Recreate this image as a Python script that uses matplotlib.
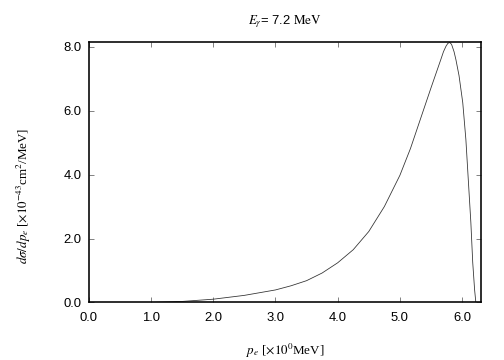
import numpy as np
import matplotlib
matplotlib.use('Agg')
import matplotlib.pyplot as plt

plt.rcParams['mathtext.fontset'] = 'stix'

# curve
pe = [1.05, 1.1, 1.5, 2.0, 2.5, 3.0, 3.25, 3.5, 3.75, 4.0, 4.25, 4.5, 4.75,
      5.0, 5.17, 5.34, 5.5, 5.66, 5.70, 5.74, 5.77, 5.80, 5.83, 5.87, 5.9,
      5.95, 6.01, 6.06, 6.1, 6.14, 6.17, 6.2, 6.22]
dsig = [0.0, 0.005, 0.03, 0.1, 0.22, 0.39, 0.52, 0.68, 0.92, 1.24, 1.65, 2.22,
        3.0, 3.98, 4.82, 5.8, 6.72, 7.62, 7.85, 8.02, 8.11, 8.14, 8.08, 7.85,
        7.6, 7.1, 6.25, 5.1, 3.8, 2.5, 1.25, 0.4, 0.0]

xticks = [0, 1, 2, 3, 4, 5, 6]
yticks = [0, 2, 4, 6, 8]

fig = plt.figure(figsize=(7, 5), dpi=72)
ax = fig.add_axes([0.176, 0.16, 0.778, 0.723])
ax.plot(pe, dsig, color='#333333', lw=0.8)

ax.set_xlim(0, 6.3)
ax.set_ylim(0, 8.15)
ax.set_xticks(xticks)
ax.set_yticks(yticks)
ax.set_xticklabels(['%.1f' % v for v in xticks], family='Liberation Sans', fontsize=13)
ax.set_yticklabels(['%.1f' % v for v in yticks], family='Liberation Sans', fontsize=13)
ax.tick_params(direction='in', top=True, right=True, length=5, width=0.8,
               color='#666666', pad=7)
ax.tick_params(axis='x', pad=10)
for s in ax.spines.values():
    s.set_linewidth(1.6)

ax.set_title(r'$E_\gamma$= 7.2 $\mathrm{MeV}$', family='Liberation Sans', fontsize=13, pad=18)
ax.set_xlabel(r'$p_e$ [$\times10^0$MeV]', family='Liberation Serif', fontsize=13,
              labelpad=17)
ax.set_ylabel(r'$d\sigma/dp_e$ [$\times10^{-43}$cm$^2$/MeV]', family='Liberation Serif',
              fontsize=13)
ax.yaxis.set_label_coords(-0.142, 0.41)

fig.savefig('out.png', dpi=72)
